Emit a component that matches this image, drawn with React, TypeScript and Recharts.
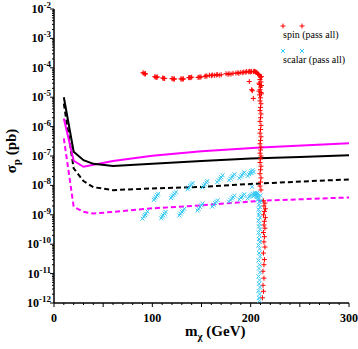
import React from 'react';
import { ComposedChart, Line, Scatter, XAxis, YAxis } from 'recharts';

// ---- Limit curves: [m_chi (GeV), sigma_p (pb)] ----
const blackSolid: number[][] = [
  [10, 1e-5], [20, 1.4e-7], [30, 7.2e-8], [40, 5.4e-8], [60, 4.6e-8],
  [100, 5.5e-8], [150, 6.8e-8], [200, 8.2e-8], [250, 9.3e-8], [300, 1.07e-7],
];
const magentaSolid: number[][] = [
  [10, 1.9e-6], [20, 6.9e-8], [30, 4.3e-8], [60, 6.8e-8], [100, 1.02e-7],
  [150, 1.45e-7], [210, 1.95e-7], [300, 2.7e-7],
];
const blackDashed: number[][] = [
  [10, 6e-6], [20, 3.8e-8], [30, 1.4e-8], [40, 8.7e-9], [60, 6.9e-9],
  [100, 7.9e-9], [150, 8.9e-9], [210, 1.17e-8], [300, 1.6e-8],
];
const magentaDashed: number[][] = [
  [10, 4e-7], [20, 1.9e-9], [30, 1.26e-9], [40, 1.1e-9], [60, 1.26e-9],
  [100, 1.66e-9], [150, 2.1e-9], [210, 3e-9], [300, 3.9e-9],
];

// ---- spin (pass all) scan points ----
const spinPoints: number[][] = [
  [90.5, 6.8e-5], [91.5, 6.5e-5], [92.5, 6.1e-5], [93, 6.3e-5],
  [102.5, 5e-5], [103.5, 4.8e-5], [104.5, 4.7e-5], [105, 4.9e-5],
  [110.5, 4.5e-5], [111.5, 4.4e-5], [112.5, 4.3e-5],
  [120, 4.3e-5], [121, 4.2e-5], [122, 4.1e-5], [122.5, 4.2e-5],
  [129, 4.2e-5], [130, 4.15e-5], [131, 4.1e-5], [131.5, 4.2e-5],
  [137, 4.6e-5], [138, 4.7e-5], [139, 4.6e-5], [140, 4.8e-5],
  [146.5, 4.7e-5], [147.5, 4.8e-5], [148.5, 4.8e-5], [149.5, 4.9e-5],
  [153.5, 5.1e-5], [154.5, 5.3e-5], [155.5, 5.2e-5],
  [158, 5.6e-5], [160, 5.4e-5], [161, 5.7e-5], [163, 5.5e-5], [165, 5.7e-5],
  [166, 5.9e-5], [168, 5.6e-5], [170, 5.8e-5], [175, 6.3e-5], [177, 6e-5],
  [178, 6.3e-5], [180, 6.1e-5], [182, 6.5e-5], [185, 6.6e-5], [187, 6.8e-5],
  [188, 6.5e-5], [190, 7e-5], [192, 6.8e-5], [193, 7.2e-5], [195, 7.1e-5],
  [196, 7.5e-5], [198, 7.3e-5], [199, 7.6e-5], [200, 7.2e-5], [201, 7.5e-5],
  [203, 7.4e-5], [204, 7.6e-5], [205, 7.3e-5], [206, 7e-5], [207, 6.5e-5],
  [207.5, 6e-5],
  [198.6, 3.4e-5], [201.7, 1.66e-5], [202.7, 9.1e-6], [201, 1.8e-5],
  [208, 6e-5], [211, 5e-5], [208.5, 3e-5], [211, 2.5e-5], [208.5, 1.6e-5], [211, 1.3e-5],
  [209, 5.5e-5], [210, 4.8e-5], [209.5, 4e-5], [210.5, 3.3e-5], [209, 2.7e-5],
  [210, 2.2e-5], [209.5, 1.8e-5], [210.5, 1.45e-5], [209, 1.2e-5], [210, 9.5e-6],
  [209.5, 7.5e-6], [210.5, 6e-6], [210, 4.5e-6], [209.5, 3.5e-6], [210.5, 2.7e-6],
  [210, 2e-6], [209.5, 1.5e-6], [210.5, 1.1e-6], [210, 8e-7], [209.5, 6e-7],
  [210.5, 4.5e-7], [210, 3.4e-7], [209.5, 2.6e-7], [210.5, 2e-7], [210, 1.6e-7],
  [209.5, 1.25e-7], [210.5, 1e-7], [210, 8e-8], [209.5, 6e-8], [210.5, 4.5e-8],
  [210, 3.4e-8], [209.5, 2.5e-8], [210.5, 1.8e-8], [210, 1.3e-8], [209.5, 9.5e-9],
  [210.5, 7e-9],
  [213, 3e-9], [214.5, 2.5e-9], [213.5, 2e-9], [215, 1.6e-9], [214, 1.3e-9],
  [213, 1e-9], [215, 8e-10], [214, 6e-10], [213.5, 4.5e-10], [214.5, 3.5e-10],
  [213, 2.5e-10], [214, 1.8e-10], [213.5, 1.2e-10], [214.5, 8e-11], [213, 5e-11],
  [214, 3e-11], [213.5, 2e-11], [212.5, 1.2e-11], [213.5, 7e-12], [212.5, 4e-12],
  [213, 2.5e-12], [212, 1.5e-12],
];

// ---- scalar (pass all) scan points ----
const scalarPoints: number[][] = [
  // lower streaks
  [90, 7.4e-10], [91.5, 8.7e-10], [92.5, 9.8e-10], [93.5, 1.1e-9], [95, 1.3e-9],
  [109, 7.6e-10], [110, 8.6e-10], [111, 9.8e-10], [112.5, 1.1e-9], [113.5, 1.25e-9],
  [127.5, 9.5e-10], [128.5, 1.1e-9], [130, 1.25e-9], [131, 1.4e-9], [132.5, 1.6e-9],
  [146, 1.4e-9], [147, 1.6e-9], [148.5, 1.85e-9], [150, 2.1e-9], [151, 2.4e-9],
  [161, 1.9e-9], [162.5, 2.2e-9], [164, 2.5e-9], [165, 2.8e-9], [166.5, 3.1e-9],
  [178, 2.8e-9], [179.5, 3.2e-9], [181, 3.6e-9], [182, 4e-9], [183.5, 4.5e-9],
  [188.5, 3.3e-9], [190, 3.8e-9], [191, 4.1e-9], [192.5, 4.5e-9], [193.5, 5e-9],
  [197, 3.6e-9], [198.5, 4.1e-9], [199.5, 4.4e-9], [200.5, 4.8e-9], [202, 5.2e-9],
  [203, 4.3e-9], [204, 4.8e-9], [205, 5.2e-9], [206, 4.6e-9], [207, 5e-9],
  [207.5, 4.2e-9], [206.5, 5.5e-9], [204.5, 5.6e-9],
  // upper streaks
  [101.5, 3.2e-9], [102.5, 3.6e-9], [103.5, 4.1e-9], [105, 4.6e-9], [106, 5.2e-9],
  [119, 3.7e-9], [120, 4.2e-9], [121.5, 4.7e-9], [122.5, 5.3e-9], [124, 5.9e-9],
  [136, 7.4e-9], [137, 8.4e-9], [138.5, 9.5e-9], [139.5, 1.07e-8], [141, 1.2e-8],
  [151, 8.5e-9], [152.5, 9.8e-9], [153.5, 1.1e-8], [155, 1.25e-8], [156, 1.4e-8],
  [166, 1.3e-8], [167.5, 1.5e-8], [169, 1.7e-8], [170, 1.9e-8], [171.5, 2.2e-8],
  [178, 1.5e-8], [179.5, 1.7e-8], [181, 1.9e-8], [182, 2.15e-8], [183.5, 2.4e-8],
  [188.5, 1.75e-8], [190, 2e-8], [191, 2.25e-8], [192.5, 2.5e-8], [193.5, 2.8e-8],
  [197, 2.1e-8], [198.5, 2.4e-8], [199.5, 2.7e-8], [200.5, 3e-8], [202, 3.3e-8],
  [201, 2.6e-8], [203, 2.9e-8], [201.5, 9e-9],
  // vertical drop
  [206, 4e-9], [207, 3.2e-9], [210, 4.5e-9], [210.5, 3e-9],
  [208, 3.5e-9], [209, 2.8e-9], [208.5, 2.2e-9], [209.5, 1.8e-9], [208, 1.5e-9],
  [209, 1.2e-9], [208.5, 1e-9], [209.5, 8e-10], [208, 6.5e-10], [209, 5e-10],
  [208.5, 4e-10], [209.5, 3.2e-10], [208, 2.5e-10], [209, 2e-10], [208.5, 1.5e-10],
  [209.5, 1.2e-10], [208, 9e-11], [209, 7e-11], [208.5, 5e-11], [209.5, 3.8e-11],
  [208, 2.8e-11], [209, 2e-11], [208.5, 1.5e-11], [209.5, 1.1e-11], [208, 8e-12],
  [209, 6e-12], [208.5, 4.5e-12], [209.5, 3.4e-12], [208, 2.6e-12], [209, 2e-12],
  [208.5, 1.5e-12], [209, 1.2e-12],
];

// ---- ticks ----
const xTicks = [0, 10, 20, 30, 40, 50, 60, 70, 80, 90, 100, 110, 120, 130, 140, 150,
  160, 170, 180, 190, 200, 210, 220, 230, 240, 250, 260, 270, 280, 290, 300];
const xLabelTicks = [0, 100, 200, 300];
const yDecades = [1e-12, 1e-11, 1e-10, 1e-9, 1e-8, 1e-7, 1e-6, 1e-5, 1e-4, 1e-3, 1e-2];
const yMinorFactors = [2, 3, 4, 5, 6, 7, 8, 9];

const yTicks: number[] = [];
yDecades.forEach((d, i) => {
  yTicks.push(d);
  if (i < yDecades.length - 1) yMinorFactors.forEach((f) => yTicks.push(d * f));
});

const toObj = (arr: number[][]) => arr.map(([x, y]) => ({ x, y }));

const FONT = '"Liberation Serif", "Times New Roman", serif';
const RED = '#ff0000';
const CYAN = '#33c8f5';
const MAGENTA = '#ff00ff';

const isDecade = (v: number) => {
  const e = Math.round(Math.log10(v));
  return Math.abs(v / Math.pow(10, e) - 1) < 1e-6;
};

const LeftTick = (props: any) => {
  const { x, y, payload } = props;
  const v = payload.value;
  const major = isDecade(v);
  const e = Math.round(Math.log10(v));
  return (
    <g>
      <line x1={x} x2={x - (major ? 4 : 2)} y1={y} y2={y} stroke="#000" strokeWidth={1} />
      {major && (
        <text x={x - 3} y={y + 4} textAnchor="end" fontFamily={FONT} fontWeight="bold" fontSize={12} fill="#000">
          10<tspan dy={-5} fontSize={9}>{String(e)}</tspan>
        </text>
      )}
    </g>
  );
};

const RightTick = (props: any) => {
  const { x, y, payload } = props;
  const major = isDecade(payload.value);
  return <line x1={x} x2={x - (major ? 4 : 2)} y1={y} y2={y} stroke="#000" strokeWidth={1} />;
};

const BottomTick = (props: any) => {
  const { x, y, payload } = props;
  const v = payload.value;
  const major = v % 50 === 0;
  return (
    <g>
      <line x1={x} x2={x} y1={y} y2={y + (major ? 4 : 2)} stroke="#000" strokeWidth={1} />
      {xLabelTicks.includes(v) && (
        <text x={x} y={y + 19} textAnchor="middle" fontFamily={FONT} fontWeight="bold" fontSize={12} fill="#000">
          {String(v)}
        </text>
      )}
    </g>
  );
};

const TopTick = (props: any) => {
  const { x, y, payload } = props;
  const major = payload.value % 50 === 0;
  return <line x1={x} x2={x} y1={y} y2={y + (major ? 4 : 2)} stroke="#000" strokeWidth={1} />;
};

const PlusShape = (p: any) => (
  <path d={`M${p.cx - 2.5},${p.cy}h5M${p.cx},${p.cy - 2.5}v5`} stroke={RED} strokeWidth={1} fill="none" />
);
const CrossShape = (p: any) => (
  <path d={`M${p.cx - 2},${p.cy - 2}l4,4M${p.cx - 2},${p.cy + 2}l4,-4`} stroke={CYAN} strokeWidth={1} fill="none" />
);

export default function App() {
  return (
    <div style={{ position: 'absolute', left: 0, top: 0, width: 358, height: 349, background: '#fff' }}>
      <ComposedChart width={358} height={349} margin={{ top: 9, right: 9, bottom: 0, left: 0 }}>
        <XAxis
          dataKey="x" type="number" domain={[0, 300]} ticks={xTicks} interval={0}
          height={46} tickSize={0} tickMargin={0} tickLine={false}
          tick={<BottomTick />} axisLine={{ stroke: '#000', strokeWidth: 1.5 }} allowDataOverflow
        />
        <XAxis
          xAxisId="top" orientation="top" type="number" domain={[0, 300]} ticks={xTicks} interval={0}
          height={0} tickSize={0} tickMargin={0} tickLine={false}
          tick={<TopTick />} axisLine={{ stroke: '#000', strokeWidth: 1.5 }} allowDataOverflow
        />
        <YAxis
          dataKey="y" type="number" scale="log" domain={[1e-12, 1e-2]} ticks={yTicks} interval={0}
          width={54} tickSize={0} tickMargin={0} tickLine={false}
          tick={<LeftTick />} axisLine={{ stroke: '#000', strokeWidth: 1.5 }} allowDataOverflow
        />
        <YAxis
          yAxisId="right" orientation="right" type="number" scale="log" domain={[1e-12, 1e-2]} ticks={yTicks} interval={0}
          width={0} tickSize={0} tickMargin={0} tickLine={false}
          tick={<RightTick />} axisLine={{ stroke: '#000', strokeWidth: 1.5 }} allowDataOverflow
        />
        <Line data={toObj(magentaDashed)} dataKey="y" stroke={MAGENTA} strokeWidth={2} strokeDasharray="5 3" dot={false} isAnimationActive={false} type="linear" />
        <Line data={toObj(blackDashed)} dataKey="y" stroke="#000" strokeWidth={2} strokeDasharray="5 3" dot={false} isAnimationActive={false} type="linear" />
        <Line data={toObj(magentaSolid)} dataKey="y" stroke={MAGENTA} strokeWidth={2} dot={false} isAnimationActive={false} type="linear" />
        <Line data={toObj(blackSolid)} dataKey="y" stroke="#000" strokeWidth={2} dot={false} isAnimationActive={false} type="linear" />
        <Scatter data={toObj(spinPoints)} dataKey="y" shape={<PlusShape />} isAnimationActive={false} />
        <Scatter data={toObj(scalarPoints)} dataKey="y" shape={<CrossShape />} isAnimationActive={false} />
      </ComposedChart>
      <svg width={358} height={349} style={{ position: 'absolute', left: 0, top: 0, pointerEvents: 'none' }}>
        <text x={185} y={336} fontFamily={FONT} fontWeight="bold" fontSize={15} fill="#000">
          m<tspan dy={4} fontSize={11}>χ</tspan><tspan dy={-4}> (GeV)</tspan>
        </text>
        <text transform="translate(16,151) rotate(-90)" textAnchor="middle" fontFamily={FONT} fontWeight="bold" fontSize={15} fill="#000">
          σ<tspan dy={4} fontSize={11}>p</tspan><tspan dy={-4}> (pb)</tspan>
        </text>
        <path d="M280.5,26h5M283,23.5v5M299.5,26h5M302,23.5v5" stroke={RED} strokeWidth={1} />
        <text x={283} y={38} fontFamily={FONT} fontSize={10} fill="#000">spin (pass all)</text>
        <path d="M281,49l4,4M281,53l4,-4M300,49l4,4M300,53l4,-4" stroke={CYAN} strokeWidth={1} />
        <text x={283} y={63} fontFamily={FONT} fontSize={10} fill="#000">scalar (pass all)</text>
      </svg>
    </div>
  );
}
